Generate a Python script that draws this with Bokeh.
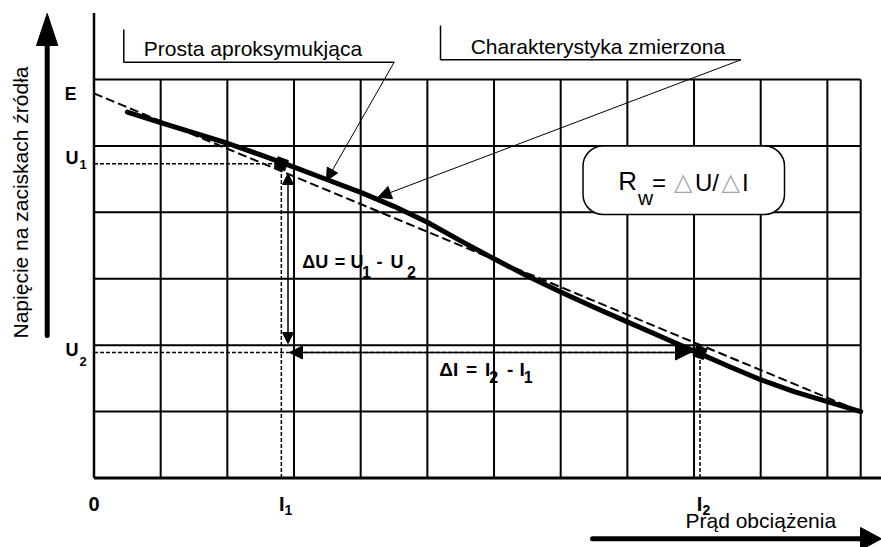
import math
from bokeh.plotting import figure
from bokeh.models import Range1d, Arrow, NormalHead
from bokeh.core.properties import value
from bokeh.embed import file_html
from bokeh.resources import INLINE

# ---------------- data (grid units) ----------------
grid_x = [0, 1, 2, 3, 4, 5, 6, 7, 8, 9, 10, 11]
x_end = 11.5
grid_y = [0, 1, 2, 3, 4, 5, 6]
y_axis_top = 7.0

# measured characteristic (thick line)
curve_x = [0.5, 1.0, 1.5, 2.0, 2.5, 3.0, 3.5, 4.0, 4.5, 5.0, 5.5, 6.0,
           6.5, 7.0, 7.5, 8.0, 8.5, 9.0, 9.5, 10.0, 10.5, 11.0, 11.5]
curve_y = [5.51, 5.35, 5.195, 5.04, 4.865, 4.68, 4.49, 4.30, 4.09, 3.85, 3.57, 3.30,
           3.04, 2.80, 2.57, 2.35, 2.13, 1.91, 1.69, 1.48, 1.30, 1.15, 1.00]

# approximating straight line (dashed)
approx_x = [0.0, 11.5]
approx_y = [5.79, 1.00]

# operating points
I1, U1 = 2.81, 4.73
I2, U2 = 9.09, 1.89

# ---------------- layout helpers ----------------
W, H = 881, 547
PX0, PY0, SX, SY = 93.5, 477.5, 66.67, 66.42


def dx(X):
    return (X - PX0) / SX


def dy(Y):
    return (PY0 - Y) / SY


FONT = "Liberation Sans"

p = figure(width=W, height=H, output_backend="svg", toolbar_location=None,
           x_range=Range1d(dx(0), dx(W)), y_range=Range1d(dy(H), dy(0)),
           x_axis_location=None, y_axis_location=None, min_border=0)
p.grid.visible = False
p.outline_line_color = None
p.background_fill_color = "white"
p.border_fill_color = "white"

# grid
vx = grid_x[1:] + [x_end]
p.multi_line(xs=[[g, g] for g in vx], ys=[[grid_y[0], grid_y[-1]]] * len(vx),
             line_color="black", line_width=2)
hy = grid_y[1:]
p.multi_line(xs=[[0, x_end]] * len(hy), ys=[[g, g] for g in hy],
             line_color="black", line_width=2)
# main axes
p.line([0, 0], [0, y_axis_top], line_color="black", line_width=2.5)
p.line([0, dx(W)], [0, 0], line_color="black", line_width=3)

# dotted helper lines
p.multi_line(xs=[[0, I1], [I1, I1], [0, I2], [I2, I2]],
             ys=[[U1, U1], [0, U1], [U2, U2], [0, U2]],
             line_color="black", line_width=1.5, line_dash="4 2")

# approximating line
p.line(approx_x, approx_y, line_color="black", line_width=2, line_dash="9 4")
# measured characteristic
p.line(curve_x, curve_y, line_color="black", line_width=5, line_join="round", line_cap="round")

# operating point markers
ang = math.atan(-0.37)
p.scatter([I1, I2], [U1, U2], marker="square", size=11, angle=ang,
          fill_color="black", line_color="black")

# delta arrows
p.add_layout(Arrow(start=NormalHead(size=11, fill_color="black", line_color="black"),
                   end=NormalHead(size=11, fill_color="black", line_color="black"),
                   x_start=dx(287.5), y_start=dy(173), x_end=dx(287.5), y_end=dy(343),
                   line_width=1.5, line_color="black"))
p.add_layout(Arrow(start=NormalHead(size=13, fill_color="black", line_color="black"),
                   end=NormalHead(size=15, fill_color="black", line_color="black"),
                   x_start=dx(289), y_start=U2, x_end=dx(690), y_end=U2,
                   line_width=1.5, line_color="black"))

# label brackets and leaders
p.multi_line(xs=[[dx(123.3), dx(123.3), dx(393.7)], [dx(440), dx(440), dx(740.4)]],
             ys=[[dy(29), dy(61.7), dy(61.7)], [dy(25), dy(59.3), dy(59.3)]],
             line_color="black", line_width=1.5)
p.add_layout(Arrow(end=NormalHead(size=12, fill_color="black", line_color="black"),
                   x_start=dx(393.7), y_start=dy(61.7), x_end=dx(326), y_end=dy(180),
                   line_width=1, line_color="black"))
p.add_layout(Arrow(end=NormalHead(size=13, fill_color="black", line_color="black"),
                   x_start=dx(740.4), y_start=dy(59.3), x_end=dx(377.6), y_end=dy(196.7),
                   line_width=1, line_color="black"))

# R_w box
p.quad(left=[dx(582.5)], right=[dx(784)], top=[dy(145.5)], bottom=[dy(214)],
       border_radius=20, fill_color="white", line_color="black", line_width=1.5)

# axis arrows
p.line([dx(46.7), dx(46.7)], [dy(335), dy(44)], line_color="black", line_width=5, line_cap="round")
p.patch([dx(36), dx(46.7), dx(57.3)], [dy(45), dy(13), dy(45)], fill_color="black", line_color="black")
p.line([dx(592), dx(862)], [dy(538.3), dy(538.3)], line_color="black", line_width=5, line_cap="round")
p.patch([dx(860), dx(881), dx(860)], [dy(527), dy(538.3), dy(549.6)], fill_color="black", line_color="black")

K_MID = 0.33  # distance from alphabetic baseline to em-box middle, in em


def txt(X, Y, s, size, bold=False, color="black", align="left", font=FONT):
    """X = left edge, Y = alphabetic baseline (window px)."""
    p.text(x=[dx(X)], y=[dy(Y - K_MID * size)], text=[s], text_font=value(font),
           text_font_size=f"{size}px", text_font_style="bold" if bold else "normal",
           text_color=color, text_align=align, text_baseline="middle")


# titles / captions
txt(143.3, 55, "Prosta aproksymukjąca", 21)
txt(470.2, 53.3, "Charakterystyka zmierzona", 21)
txt(685, 527.3, "Prąd obciążenia", 21)
p.text(x=[dx(19.5)], y=[dy(202)], text=["Napięcie na zaciskach źródła"], text_font=value(FONT),
       text_font_size="21px", text_align="center", text_baseline="middle", angle=math.pi / 2)

# axis marks
txt(64.3, 99.3, "E", 17.5, bold=True)
txt(65, 163.3, "U", 18, bold=True)
txt(79, 168.5, "1", 13, bold=True)
txt(65, 355, "U", 18, bold=True)
txt(79, 365, "2", 13, bold=True)
txt(93.5, 510, "0", 20, bold=True, align="center")
txt(278.5, 510, "I", 20, bold=True)
txt(284, 514, "1", 14, bold=True)
txt(696.3, 510, "I", 20, bold=True)
txt(702, 514, "2", 14, bold=True)

# delta U label
txt(301.7, 267.3, "ΔU", 18, bold=True)
txt(334.3, 267.3, "=", 18, bold=True)
txt(350, 267.3, "U", 18, bold=True)
txt(361.5, 276.5, "1", 16, bold=True)
txt(376, 267.3, "-", 18, bold=True)
txt(390, 267.3, "U", 18, bold=True)
txt(406.5, 276.5, "2", 16, bold=True)

# delta I label
txt(438.8, 375, "ΔI", 19, bold=True)
txt(465.6, 375, "=", 19, bold=True)
txt(484.5, 375, "I", 19, bold=True)
txt(488.8, 381.7, "2", 16, bold=True)
txt(506.6, 375, "-", 19, bold=True)
txt(519, 375, "I", 19, bold=True)
txt(523.2, 381.7, "1", 16, bold=True)

# R_w formula
txt(617.7, 189.5, "R", 26)
txt(637.5, 203.5, "w", 21)
txt(651.5, 189.5, "=", 24)
txt(673.5, 189.5, "△", 24, color="#a6a6a6", font="DejaVu Sans")
txt(694.5, 189.5, "U/", 24)
txt(721, 189.5, "△", 24, color="#a6a6a6", font="DejaVu Sans")
txt(741.5, 189.5, "I", 24)

open("out.html", "w").write(file_html(p, INLINE))
